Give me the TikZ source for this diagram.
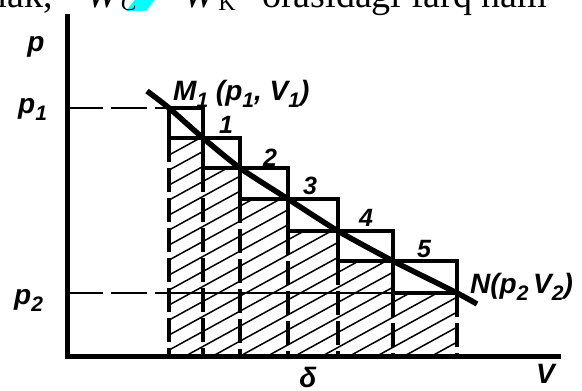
\documentclass[tikz,border=0pt]{standalone}
\usepackage{fontspec}
\usepackage{graphicx}
\setmainfont{Liberation Serif}
\newfontfamily\graphfont{Liberation Sans}
\usetikzlibrary{calc}
\definecolor{inkcolor}{RGB}{0,0,0}
\definecolor{markcolor}{RGB}{0,255,255}
\newcommand{\lowsub}[1]{\raisebox{-0.28em}{\scalebox{0.75}{#1}}}
\newcommand{\pagesub}[1]{\raisebox{-0.1em}{\fontsize{24bp}{24bp}\selectfont #1}}
\tikzset{
pagetext/.style={
  font=\fontsize{38bp}{40bp}\selectfont,
  inner sep=0pt
},
graphlabel/.style={
  font=\graphfont\bfseries\itshape\fontsize{28bp}{30bp}\selectfont,
  text=inkcolor,
  inner sep=0pt
},
numlabel/.style={
  graphlabel,
  font=\graphfont\bfseries\itshape\fontsize{25bp}{27bp}\selectfont
},
axisline/.style={
  draw=inkcolor,
  line width=5bp
},
stepline/.style={
  draw=inkcolor,
  line width=4bp
},
curveline/.style={
  draw=inkcolor,
  line width=5.5bp
},
guideline/.style={
  draw=inkcolor,
  line width=2bp,
  dash pattern=on 36bp off 8bp
},
edgeline/.style={
  draw=inkcolor,
  line width=3.5bp,
  dash pattern=on 24bp off 6bp
},
levelline/.style={
  draw=inkcolor,
  line width=1.8bp
},
hatchline/.style={
  draw=inkcolor,
  line width=1.5bp
}
}

\begin{document}
\begin{tikzpicture}[x=1bp, y=-1bp]
  \useasboundingbox (0,0) rectangle (582,390);
  \clip (0,0) rectangle (582,390);

  % page text cut at the top
  \fill[markcolor] (126,11) -- (146,11) -- (157,-3) -- (137,-3) -- cycle;
  \node[pagetext, anchor=base east] (lead) at (53,7) {mak,};
  \node[pagetext, anchor=base west] (diff) at (86,7)
    {\textit{W}\pagesub{\textit{C}}\, − \textit{W}\pagesub{K}};
  \node[pagetext, anchor=base west] (tail) at (262,7) {orasidagi farq nam};

  % hatched area under the steps
  \begin{scope}
    \clip (169,138) -- (203,138) -- (203,168) -- (240,168) -- (240,199)
      -- (288,199) -- (288,231) -- (338,231) -- (338,261) -- (393,261)
      -- (393,293) -- (457,293) -- (457,356) -- (169,356) -- cycle;
    \foreach \c in {130,145,...,540}
      \draw[hatchline] (160,\c) -- (470,\c-170);
  \end{scope}
  \foreach \xv/\yv in {169/138, 203/168, 240/199, 288/231, 338/261, 393/293, 457/293}
    \draw[edgeline] (\xv,\yv) -- (\xv,356);
  \draw[levelline] (169,293) -- (457,293);

  % axes and guides
  \draw[axisline] (67,14) -- (67,356) -- (561,356);
  \draw[guideline] (67,108) -- (169,108);
  \draw[guideline] (67,293) -- (169,293);

  % steps
  \foreach \xa/\xb/\ya/\yb in {169/203/108/138, 203/240/138/168, 240/288/168/199,
                               288/338/199/231, 338/393/231/261, 393/457/261/293}
    \draw[stepline] (\xa,\ya) rectangle (\xb,\yb);

  % process line
  \draw[curveline] plot[smooth, tension=0.4] coordinates {(147,91) (169,108) (203,138)
    (240,168) (288,199) (338,231) (393,261) (457,293) (477,304)};

  % labels
  \node[graphlabel, anchor=base] (plabel) at (36,51) {p};
  \node[graphlabel, anchor=base west] (p1label) at (18,113) {p\lowsub{1}};
  \node[graphlabel, anchor=base west] (p2label) at (14,304) {p\lowsub{2}};
  \node[graphlabel, anchor=base west] (mlabel) at (173,100)
    {M\lowsub{1} (p\lowsub{1}, V\lowsub{1})};
  \node[graphlabel, anchor=base west] (nlabel) at (470,293)
    {N(p\lowsub{2}\,V\lowsub{2})};
  \node[graphlabel, anchor=base west] (vlabel) at (536,383) {V};
  \node[graphlabel] (dlabel) at (308,377) {δ};
  \foreach \n/\xn/\yn in {1/226/125, 2/270/158, 3/310/186, 4/366/218, 5/424/249}
    \node[numlabel] (n\n) at (\xn,\yn) {\n};
\end{tikzpicture}
\end{document}
